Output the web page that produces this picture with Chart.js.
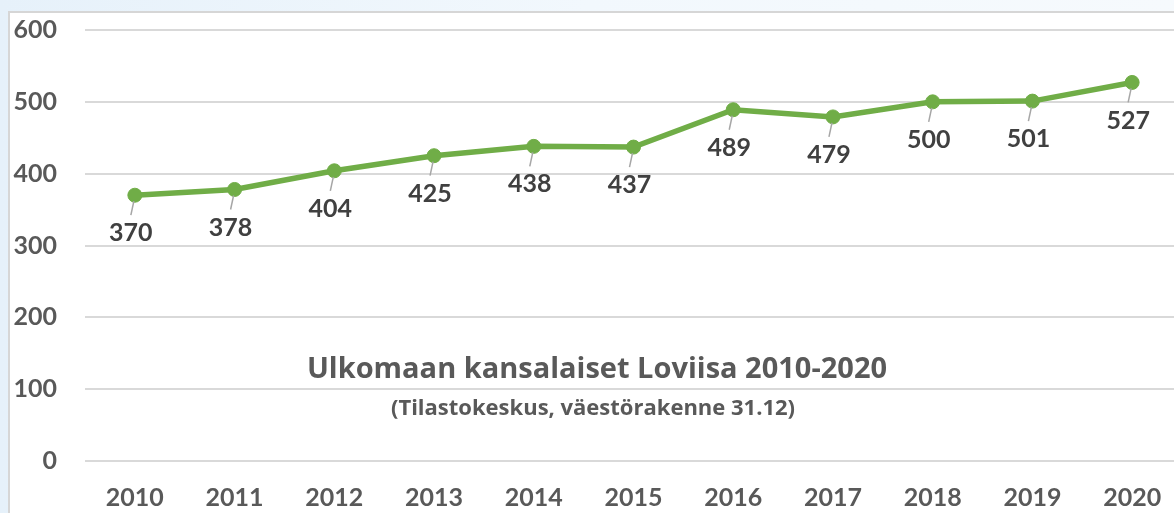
<!DOCTYPE html>
<html>
<head>
<meta charset="utf-8">
<script src="https://cdn.jsdelivr.net/npm/chart.js@4/dist/chart.umd.min.js"></script>
<style>
  html, body { margin: 0; padding: 0; width: 1174px; height: 513px; overflow: hidden; }
  body { background: linear-gradient(90deg, #e6f1fa 0%, #f2f8fd 50%, #f6fafd 100%); position: relative; }
  #frame { position: absolute; left: 8px; top: 11px; width: 1200px; height: 540px; background: #ffffff;
           border-left: 2px solid #d6d6d6; border-top: 2px solid #d6d6d6; }
  #c { position: absolute; left: 0; top: 0; }
</style>
</head>
<body>
<div id="frame"></div>
<canvas id="c" width="1190" height="513"></canvas>
<script>
const categories = ["2010","2011","2012","2013","2014","2015","2016","2017","2018","2019","2020"];
const values = [370, 378, 404, 425, 438, 437, 489, 479, 500, 501, 527];
const yTicks = [0, 100, 200, 300, 400, 500, 600];
const titleText = "Ulkomaan kansalaiset Loviisa 2010-2020";
const subtitleText = "(Tilastokeskus, väestörakenne 31.12)";

const FONT = "Lato, 'Open Sans', sans-serif";
const TITLE_FONT = "'Open Sans', Lato, sans-serif";
const TEXT_COLOR = "#595959";
const LINE_COLOR = "#70ad47";

const labelPlugin = {
  id: 'pointLabels',
  afterDatasetsDraw(chart) {
    const ctx = chart.ctx;
    const meta = chart.getDatasetMeta(0);
    ctx.save();
    meta.data.forEach((pt, i) => {
      const x = pt.x, y = pt.y;
      ctx.strokeStyle = "#a6a6a6";
      ctx.lineWidth = 1.5;
      ctx.beginPath();
      ctx.moveTo(x - 1, y + 6);
      ctx.lineTo(x - 4, y + 20);
      ctx.stroke();
      ctx.fillStyle = "#404040";
      ctx.font = "bold 25px " + FONT;
      ctx.textAlign = "center";
      ctx.textBaseline = "middle";
      ctx.fillText(String(values[i]), x - 4, y + 38);
    });
    ctx.restore();
  }
};

const titlePlugin = {
  id: 'innerTitle',
  afterDraw(chart) {
    const ctx = chart.ctx;
    const a = chart.chartArea;
    ctx.save();
    ctx.fillStyle = TEXT_COLOR;
    ctx.textAlign = "center";
    ctx.textBaseline = "alphabetic";
    ctx.font = "bold 29px " + TITLE_FONT;
    ctx.fillText(titleText, a.left + 512, a.top + 348);
    ctx.font = "bold 22px " + TITLE_FONT;
    ctx.fillText(subtitleText, a.left + 508, a.top + 385);
    ctx.restore();
  }
};

new Chart(document.getElementById('c'), {
  type: 'line',
  data: {
    labels: categories,
    datasets: [{
      data: values,
      borderColor: LINE_COLOR,
      backgroundColor: LINE_COLOR,
      borderWidth: 5.5,
      pointRadius: 7,
      pointBackgroundColor: LINE_COLOR,
      pointBorderColor: LINE_COLOR,
      pointBorderWidth: 1,
      tension: 0,
      fill: false
    }]
  },
  options: {
    responsive: false,
    animation: false,
    devicePixelRatio: 1,
    layout: { padding: { top: 30, right: 3, left: 0, bottom: 0 } },
    plugins: { legend: { display: false }, tooltip: { enabled: false }, title: { display: false } },
    scales: {
      x: {
        offset: true,
        grid: { display: false, drawTicks: false },
        border: { display: false },
        ticks: { color: TEXT_COLOR, font: { family: FONT, size: 25, weight: 'bold' }, padding: 22, maxRotation: 0 },
        afterFit(s) { s.height = 52; s.paddingLeft = 0; s.paddingRight = 0; }
      },
      y: {
        min: yTicks[0],
        max: yTicks[yTicks.length - 1],
        grid: { color: "#d9d9d9", lineWidth: 2, drawTicks: false },
        border: { display: false },
        afterBuildTicks(s) { s.ticks = yTicks.map(v => ({ value: v })); },
        ticks: { color: TEXT_COLOR, font: { family: FONT, size: 25, weight: 'bold' }, padding: 28 },
        afterFit(s) { s.width = 85; s.paddingTop = 0; s.paddingBottom = 0; }
      }
    }
  },
  plugins: [labelPlugin, titlePlugin]
});
</script>
</body>
</html>
